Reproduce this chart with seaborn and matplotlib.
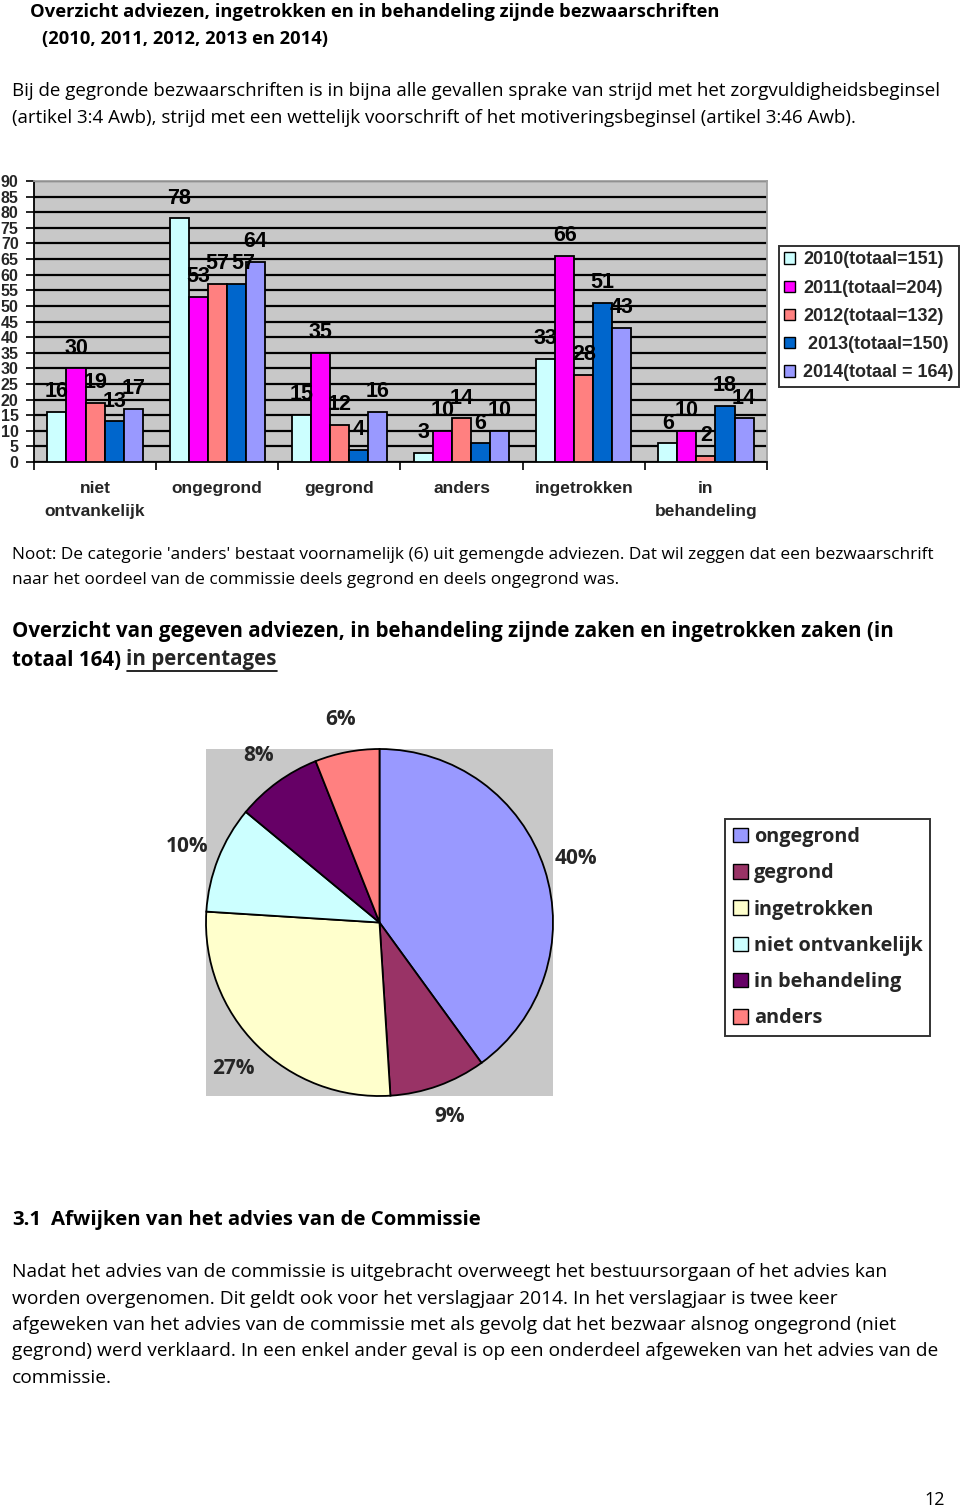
import numpy as np
import pandas as pd
import seaborn as sns
import matplotlib
matplotlib.use("Agg")
import matplotlib.pyplot as plt
from matplotlib.patches import Patch
from matplotlib.lines import Line2D

# ---------------- data ----------------
categories = ["niet\nontvankelijk", "ongegrond", "gegrond", "anders", "ingetrokken", "in\nbehandeling"]
years = ["2010(totaal=151)", "2011(totaal=204)", "2012(totaal=132)", " 2013(totaal=150)", "2014(totaal = 164)"]
v2010 = [16, 78, 15, 3, 33, 6]
v2011 = [30, 53, 35, 10, 66, 10]
v2012 = [19, 57, 12, 14, 28, 2]
v2013 = [13, 57, 4, 6, 51, 18]
v2014 = [17, 64, 16, 10, 43, 14]
year_colors = ["#CCFFFF", "#FF00FF", "#FF8080", "#0066CC", "#9999FF"]
yticks = list(range(0, 95, 5))

pie_labels = ["ongegrond", "gegrond", "ingetrokken", "niet ontvankelijk", "in behandeling", "anders"]
pie_pct = [40, 9, 27, 10, 8, 6]
pie_colors = ["#9999FF", "#993366", "#FFFFCC", "#CCFFFF", "#660066", "#FF8080"]

series = [v2010, v2011, v2012, v2013, v2014]
rows = []
for yr, vals in zip(years, series):
    for c, v in zip(categories, vals):
        rows.append({"categorie": c, "jaar": yr, "aantal": v})
df = pd.DataFrame(rows)

# ---------------- figure ----------------
sns.set_style("white")
plt.rcParams["font.family"] = ["Open Sans", "DejaVu Sans"]
W, H = 960, 1509
fig = plt.figure(figsize=(W / 100, H / 100), dpi=100)
fig.patch.set_facecolor("white")

def fx(x):
    return x / W

def fy(y):
    return 1 - y / H

def txt(x, y, s, size, bold=False, **kw):
    return fig.text(fx(x), fy(y), s, fontsize=size, fontweight="bold" if bold else "normal",
                    va="center", ha=kw.pop("ha", "left"), color="black", **kw)

# header texts
txt(30, 12, "Overzicht adviezen, ingetrokken en in behandeling zijnde bezwaarschriften", 13.2, True)
txt(42, 39, "(2010, 2011, 2012, 2013 en 2014)", 13.2, True)
txt(12, 91, "Bij de gegronde bezwaarschriften is in bijna alle gevallen sprake van strijd met het zorgvuldigheidsbeginsel", 13.5)
txt(12, 118, "(artikel 3:4 Awb), strijd met een wettelijk voorschrift of het motiveringsbeginsel (artikel 3:46 Awb).", 13.5)

# ---------------- bar chart ----------------
ARIAL = "Liberation Sans"
ax = fig.add_axes([fx(34), fy(462), (767 - 34) / W, (462 - 181) / H])
ax.set_facecolor("#C8C8C8")
sns.barplot(data=df, x="categorie", y="aantal", hue="jaar", palette=year_colors,
            width=0.78, gap=0, edgecolor="black", linewidth=1.3, ax=ax, legend=False,
            saturation=1, errorbar=None, zorder=3)
ax.set_ylim(0, 90)
ax.set_xlim(-0.5, len(categories) - 0.5)
ax.set_yticks(yticks)
ax.set_yticklabels([str(t) for t in yticks], fontsize=11.5, fontweight="bold", family=ARIAL)
ax.yaxis.grid(True, color="black", linewidth=1.6, zorder=0)
ax.set_axisbelow(True)
ax.set_xticks(range(len(categories)))
ax.set_xticklabels(categories, fontsize=12.5, fontweight="bold", family=ARIAL, linespacing=1.66, va="top")
ax.set_xticks(np.arange(-0.5, len(categories), 1), minor=True)
ax.tick_params(axis="x", which="major", length=0, pad=14)
ax.tick_params(axis="x", which="minor", length=6, width=1.2, color="black", direction="out", bottom=True)
ax.tick_params(axis="y", length=6, width=1.2, color="black", direction="out", left=True, pad=5)
ax.set_xlabel("")
ax.set_ylabel("")
for s in ["left", "bottom"]:
    ax.spines[s].set_color("black")
    ax.spines[s].set_linewidth(1.3)
for s in ["top", "right"]:
    ax.spines[s].set_color("#A0A0A0")
    ax.spines[s].set_linewidth(1.3)
for j, cont in enumerate(ax.containers):
    anns = ax.bar_label(cont, padding=7, fontsize=15.5, fontweight="bold", family=ARIAL, color="black")
    if j > 0:
        for i, a in enumerate(anns):
            # equal neighbouring values: nudge right so the labels do not sit on each other
            if series[j][i] == series[j - 1][i]:
                a.xyann = (5, 7)

handles = [Patch(facecolor=c, edgecolor="black", linewidth=1.0) for c in year_colors]
leg = fig.legend(handles, years, loc="upper left", bbox_to_anchor=(fx(779), fy(246)),
                 prop={"family": ARIAL, "weight": "bold", "size": 13},
                 frameon=True, fancybox=False, edgecolor="black", handlelength=0.6, handleheight=0.6,
                 handletextpad=0.45, labelspacing=0.62, borderpad=0.3, borderaxespad=0)
leg.get_frame().set_linewidth(1.4)

# ---------------- notes ----------------
txt(12, 555, "Noot: De categorie 'anders' bestaat voornamelijk (6) uit gemengde adviezen. Dat wil zeggen dat een bezwaarschrift", 12.4)
txt(12, 580, "naar het oordeel van de commissie deels gegrond en deels ongegrond was.", 12.4)
txt(12, 631, "Overzicht van gegeven adviezen, in behandeling zijnde zaken en ingetrokken zaken (in", 14.8, True)
t1 = txt(12, 660, "totaal 164) ", 14.8, True)
fig.canvas.draw()
r = fig.canvas.get_renderer()
bb = t1.get_window_extent(r)
t2 = fig.text(bb.x1 / W, fy(660), "in percentages", fontsize=14.8, fontweight="bold", va="center", ha="left")
bb2 = t2.get_window_extent(r)
fig.add_artist(Line2D([bb2.x0 / W, bb2.x1 / W], [fy(671), fy(671)], color="black", linewidth=1.2))

# ---------------- pie chart ----------------
axp = fig.add_axes([fx(206), fy(1097), (553 - 206) / W, (1097 - 748) / H])
wedges, texts = axp.pie(pie_pct, colors=pie_colors, startangle=90, counterclock=False, radius=1.0,
                        labels=[f"{p}%" for p in pie_pct], labeldistance=1.19, frame=True,
                        wedgeprops={"edgecolor": "black", "linewidth": 1.3},
                        textprops={"fontsize": 15, "fontweight": "bold"})
for t in texts:
    t.set_ha("center")
    t.set_va("center")
    t.set_clip_on(False)
axp.set_facecolor("#C8C8C8")
axp.set_xlim(-1.0, 1.0)
axp.set_ylim(-1.0, 1.0)
axp.set_xticks([])
axp.set_yticks([])
for s in axp.spines.values():
    s.set_visible(False)

ph = [Patch(facecolor=c, edgecolor="black", linewidth=1.0) for c in pie_colors]
leg2 = fig.legend(ph, pie_labels, loc="upper left", bbox_to_anchor=(fx(725), fy(819)),
                  prop={"weight": "bold", "size": 14.3}, frameon=True, fancybox=False, edgecolor="black",
                  handlelength=0.75, handleheight=0.75, handletextpad=0.3, labelspacing=0.82,
                  borderpad=0.4, borderaxespad=0)
leg2.get_frame().set_linewidth(1.4)

# ---------------- section 3.1 ----------------
txt(12, 1220, "3.1", 14.7, True)
txt(51, 1220, "Afwijken van het advies van de Commissie", 14.7, True)
para = [
    "Nadat het advies van de commissie is uitgebracht overweegt het bestuursorgaan of het advies kan",
    "worden overgenomen. Dit geldt ook voor het verslagjaar 2014. In het verslagjaar is twee keer",
    "afgeweken van het advies van de commissie met als gevolg dat het bezwaar alsnog ongegrond (niet",
    "gegrond) werd verklaard. In een enkel ander geval is op een onderdeel afgeweken van het advies van de",
    "commissie.",
]
for i, line in enumerate(para):
    txt(12, 1272 + i * 26.5, line, 13.8)
txt(935, 1500, "12", 13, ha="center")

fig.savefig("out.png", dpi=100)
